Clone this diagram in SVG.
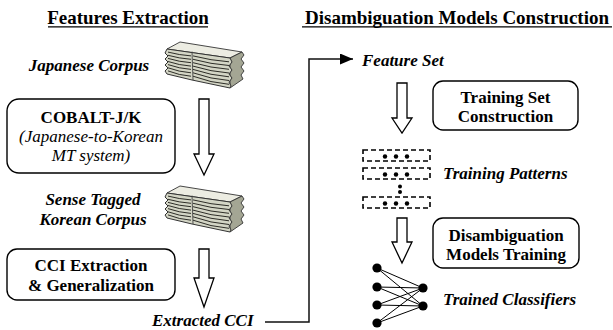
<svg xmlns="http://www.w3.org/2000/svg" width="613" height="330" viewBox="0 0 613 330">
  <style>
    text { font-family: "Liberation Serif", "Times New Roman", serif; fill: #000; }
    .title { font-size: 19px; font-weight: bold; }
    .lbl { font-size: 17px; font-weight: bold; font-style: italic; }
    .box-b { font-size: 17px; font-weight: bold; text-anchor: middle; }
    .box-i { font-size: 17px; font-style: italic; text-anchor: middle; }
    .proc { fill: #fff; stroke: #000; stroke-width: 1.4; }
    .hollow { fill: #fff; stroke: #000; stroke-width: 1.3; stroke-linejoin: miter; }
    .dash { fill: none; stroke: #000; stroke-width: 1.6; stroke-dasharray: 5 3; }
    .dot { fill: #000; }
    .uline { stroke: #000; stroke-width: 1.3; }
    .edge { stroke: #000; stroke-width: 1; }
    .page { fill: none; stroke: #2e2e28; stroke-width: 1; }
  </style>
  <defs>
    <marker id="arrowhead" markerUnits="userSpaceOnUse" markerWidth="14" markerHeight="12" refX="13" refY="5.5" orient="auto">
      <path d="M0,0 L13,5.5 L0,11 Z" fill="#000"/>
    </marker>
    <!-- stack of paper sheets -->
    <g id="paper-stack">
      <path d="M2,7 L15,0 L77,10 L65,16 Z" fill="#ececE2" stroke="#333" stroke-width="0.9"/>
      <path d="M65,16 L77,10 L79,13 L76,17 L79,21 L76,25 L79,29 L76,33 L78,37 L65,46 Z" fill="#a4a694" stroke="#333" stroke-width="0.9"/>
      <path d="M2,7 L65,16 L67,20 L64,24 L67,28 L64,32 L67,36 L64,40 L66,44 L65,46 L27,38 L2,32 L0,29 L3,26 L0,23 L3,20 L0,17 L3,14 L0,11 Z" fill="#d3d5c5" stroke="#333" stroke-width="1"/>
      <path d="M27,9.5 L28,38" fill="none" stroke="#444" stroke-width="0.9"/>
      <path class="page" d="M3,10.1 Q14,13 26,13.9 M28,13.9 Q46,18.5 64,19.8"/>
      <path class="page" d="M3,13.3 Q14,16.4 26,17.3 M28,17.3 Q46,22.2 64,23.5"/>
      <path class="page" d="M3,16.4 Q14,19.8 26,20.7 M28,20.7 Q46,26 64,27.3"/>
      <path class="page" d="M3,19.5 Q14,23.2 26,24.1 M28,24.1 Q46,29.7 64,31"/>
      <path class="page" d="M3,22.6 Q14,26.5 26,27.4 M28,27.4 Q46,33.4 64,34.8"/>
      <path class="page" d="M3,25.8 Q14,29.9 26,30.8 M28,30.8 Q46,37.2 64,38.5"/>
      <path class="page" d="M3,28.9 Q14,33.3 26,34.2 M28,34.2 Q46,40.9 64,42.3"/>
    </g>
  </defs>

  <!-- section headings -->
  <g id="headings">
    <text class="title" x="128" y="24" text-anchor="middle">Features Extraction</text>
    <line class="uline" x1="48" y1="26.8" x2="208" y2="26.8"/>
    <text class="title" x="457" y="24" text-anchor="middle">Disambiguation Models Construction</text>
    <line class="uline" x1="302" y1="26.8" x2="612" y2="26.8"/>
  </g>

  <!-- left column: feature extraction -->
  <g id="japanese-corpus">
    <text class="lbl" x="89" y="71" text-anchor="middle">Japanese Corpus</text>
    <use href="#paper-stack" x="165" y="42"/>
  </g>

  <g id="cobalt">
    <rect class="proc" x="7" y="99" width="168" height="74" rx="12"/>
    <text class="box-b" x="91" y="123">COBALT-J/K</text>
    <text class="box-i" x="91" y="142">(Japanese-to-Korean</text>
    <text class="box-i" x="91" y="161">MT system)</text>
  </g>

  <g id="arrow-translate">
    <path class="hollow" d="M199,99 L209,99 L209,154 L214,154 L204,175 L194,154 L199,154 Z"/>
  </g>

  <g id="sense-tagged-corpus">
    <text class="lbl" x="93" y="205" text-anchor="middle">Sense Tagged</text>
    <text class="lbl" x="93" y="225" text-anchor="middle">Korean Corpus</text>
    <use href="#paper-stack" x="165" y="186"/>
  </g>

  <g id="cci-extraction">
    <rect class="proc" x="7" y="249" width="168" height="51" rx="10"/>
    <text class="box-b" x="91" y="271">CCI Extraction</text>
    <text class="box-b" x="91" y="291">&amp; Generalization</text>
  </g>

  <g id="arrow-extract">
    <path class="hollow" d="M199,249 L209,249 L209,278 L214,278 L204,307 L194,278 L199,278 Z"/>
  </g>

  <g id="extracted-cci">
    <text class="lbl" x="152" y="326">Extracted CCI</text>
  </g>

  <!-- right column: model construction -->
  <g id="feature-set">
    <text class="lbl" x="362" y="66">Feature Set</text>
  </g>

  <g id="arrow-training-set">
    <path class="hollow" d="M397,83 L407,83 L407,118 L412,118 L402,133 L392,118 L397,118 Z"/>
  </g>

  <g id="training-set-construction">
    <rect class="proc" x="433" y="81" width="145" height="49" rx="10"/>
    <text class="box-b" x="505.5" y="103">Training Set</text>
    <text class="box-b" x="505.5" y="122">Construction</text>
  </g>

  <g id="training-patterns">
    <rect class="dash" x="363" y="150" width="67" height="11"/>
    <circle class="dot" cx="385" cy="156.5" r="2.2"/>
    <circle class="dot" cx="396" cy="156.5" r="2.2"/>
    <circle class="dot" cx="407" cy="156.5" r="2.2"/>
    <rect class="dash" x="363" y="168" width="67" height="11"/>
    <circle class="dot" cx="385" cy="174.5" r="2.2"/>
    <circle class="dot" cx="396" cy="174.5" r="2.2"/>
    <circle class="dot" cx="407" cy="174.5" r="2.2"/>
    <circle class="dot" cx="400" cy="186.5" r="2"/>
    <circle class="dot" cx="400" cy="192" r="2"/>
    <rect class="dash" x="363" y="197" width="67" height="11"/>
    <circle class="dot" cx="385" cy="203.5" r="2.2"/>
    <circle class="dot" cx="396" cy="203.5" r="2.2"/>
    <circle class="dot" cx="407" cy="203.5" r="2.2"/>
    <text class="lbl" x="443" y="179">Training Patterns</text>
  </g>

  <g id="arrow-models">
    <path class="hollow" d="M397,218 L407,218 L407,242 L412,242 L402,263 L392,242 L397,242 Z"/>
  </g>

  <g id="models-training">
    <rect class="proc" x="433" y="218" width="146" height="50" rx="10"/>
    <text class="box-b" x="506" y="241">Disambiguation</text>
    <text class="box-b" x="506" y="260">Models Training</text>
  </g>

  <g id="trained-classifiers">
    <g>
      <line class="edge" x1="377" y1="268" x2="423" y2="288"/>
      <line class="edge" x1="377" y1="268" x2="423" y2="306"/>
      <line class="edge" x1="377" y1="287" x2="423" y2="288"/>
      <line class="edge" x1="377" y1="287" x2="423" y2="306"/>
      <line class="edge" x1="377" y1="305" x2="423" y2="288"/>
      <line class="edge" x1="377" y1="305" x2="423" y2="306"/>
      <line class="edge" x1="377" y1="323" x2="423" y2="288"/>
      <line class="edge" x1="377" y1="323" x2="423" y2="306"/>
    </g>
    <circle class="dot" cx="377" cy="268" r="4.6"/>
    <circle class="dot" cx="377" cy="287" r="4.6"/>
    <circle class="dot" cx="377" cy="305" r="4.6"/>
    <circle class="dot" cx="377" cy="323" r="4.6"/>
    <circle class="dot" cx="423" cy="288" r="4.6"/>
    <circle class="dot" cx="423" cy="306" r="4.6"/>
    <text class="lbl" x="443" y="305">Trained Classifiers</text>
  </g>

  <!-- connectors -->
  <g id="connectors">
    <polyline points="265,322 309,322 309,59 353,59" fill="none" stroke="#111" stroke-width="1.5" marker-end="url(#arrowhead)"/>
  </g>
</svg>
